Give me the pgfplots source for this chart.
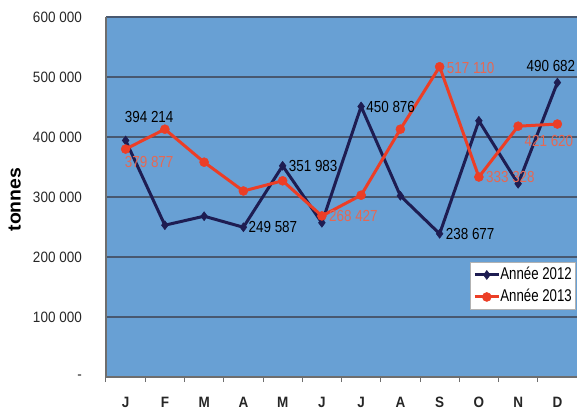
\documentclass[border=0pt]{standalone}
\usepackage{fontspec}
\usepackage{pgfplots}
\usepackage{pgfplotstable}
\pgfplotsset{compat=1.18}

\setmainfont{Liberation Sans}
\newfontfamily\tickfam{Liberation Sans}[FakeStretch=0.9]
\newfontfamily\datafam{Liberation Sans}[FakeStretch=0.84]
\newfontfamily\legfam{Liberation Sans}[FakeStretch=0.78]
\newfontfamily\labfam{Liberation Sans}[FakeStretch=1.05]

\definecolor{plotbg}{RGB}{104,160,212}
\definecolor{gridc}{RGB}{72,88,112}
\definecolor{axisc}{RGB}{110,110,110}
\definecolor{navy}{RGB}{30,29,82}
\definecolor{rouge}{RGB}{236,62,38}
\definecolor{rougelab}{RGB}{228,104,84}

% Tonnage mensuel : x = mois (0 = janvier), v = tonnes, lab = étiquette,
% dx/dy = décalage de l'étiquette (pt) par rapport au point
\pgfplotstableread[col sep=comma]{
x,v,lab,dx,dy
0,394214,394 214,-1,23
1,253000,,0,0
2,268000,,0,0
3,249587,249 587,5,0
4,351983,351 983,6,0
5,257000,,0,0
6,450876,450 876,5,-1
7,302000,,0,0
8,238677,238 677,6,0
9,427000,,0,0
10,322000,,0,0
11,490682,490 682,-31,16.5
}\anneeA

\pgfplotstableread[col sep=comma]{
x,v,lab,dx,dy
0,379877,379 877,-1,-13
1,413000,,0,0
2,358000,,0,0
3,310000,,0,0
4,327000,,0,0
5,268427,268 427,7,0
6,303000,,0,0
7,413000,,0,0
8,517110,517 110,7,-1
9,333328,333 328,7,0
10,418000,,0,0
11,421620,421 620,-33,-17
}\anneeB

\begin{document}
\begin{tikzpicture}
\begin{axis}[
  at={(0pt,0pt)}, anchor=south west,
  scale only axis, width=471pt, height=360pt,
  xmin=-0.5, xmax=11.5, ymin=0, ymax=600000,
  clip=false,
  axis background/.style={fill=plotbg},
  axis x line*=bottom, axis y line*=left,
  axis line style={draw=axisc, line width=1.3pt, -},
  ytick={0,100000,200000,300000,400000,500000,600000},
  yticklabels={-,100 000,200 000,300 000,400 000,500 000,600 000},
  scaled y ticks=false,
  ymajorgrids, grid style={draw=gridc, line width=1.1pt},
  xtick={0,...,11},
  xticklabels={J,F,M,A,M,J,J,A,S,O,N,D},
  minor xtick={-0.5,0.5,...,11.5},
  tick align=outside, major tick length=0pt, minor tick length=5pt,
  minor tick style={draw=axisc, line width=1pt},
  yticklabel style={font=\tickfam\fontsize{15}{17}\selectfont, text=black!85,
    anchor=east, inner sep=0pt, xshift=-24pt},
  xticklabel style={font=\tickfam\bfseries\fontsize{15}{17}\selectfont, text=black!85,
    anchor=center, inner sep=0pt, yshift=-25.5pt},
  ylabel={tonnes},
  ylabel style={font=\labfam\bfseries\fontsize{18.5}{20}\selectfont,
    at={(axis description cs:-0.194,0.493)}, anchor=center},
  legend style={at={(rel axis cs:0.996,0.319)}, anchor=north east,
    fill=white, draw=gray!60, line width=0.6pt,
    inner xsep=3pt, inner ysep=5pt, row sep=7pt,
    font=\legfam\fontsize{17}{18}\selectfont,
    nodes={inner sep=0pt, text height=12pt, text depth=3pt}},
  legend cell align=left,
  legend image code/.code={\draw[mark repeat=2,mark phase=2]
    plot coordinates {(0pt,0pt) (12pt,0pt) (24pt,0pt)};},
  point meta=explicit symbolic,
  nodes near coords={\pgfplotspointmeta},
  visualization depends on={\thisrow{dx} \as \ldx},
  visualization depends on={\thisrow{dy} \as \ldy},
  every node near coord/.append style={anchor=west, xshift=\ldx pt,
    yshift=\ldy pt, inner sep=0pt,
    font=\datafam\fontsize{16}{17}\selectfont},
]
\addplot[navy, line width=3pt, mark=diamond*, mark size=4.5pt,
  mark options={fill=navy, draw=navy, line width=0.5pt},
  every node near coord/.append style={text=black}]
  table[x=x, y=v, meta=lab] {\anneeA};
\addlegendentry{Année 2012}
\addplot[rouge, line width=3pt, mark=*, mark size=4.5pt,
  mark options={fill=rouge, draw=rouge, line width=0.5pt},
  every node near coord/.append style={text=rougelab}]
  table[x=x, y=v, meta=lab] {\anneeB};
\addlegendentry{Année 2013}
\end{axis}
\pgfresetboundingbox
\useasboundingbox (-106pt,-35pt) rectangle (471pt,377pt);
\end{tikzpicture}
\end{document}
